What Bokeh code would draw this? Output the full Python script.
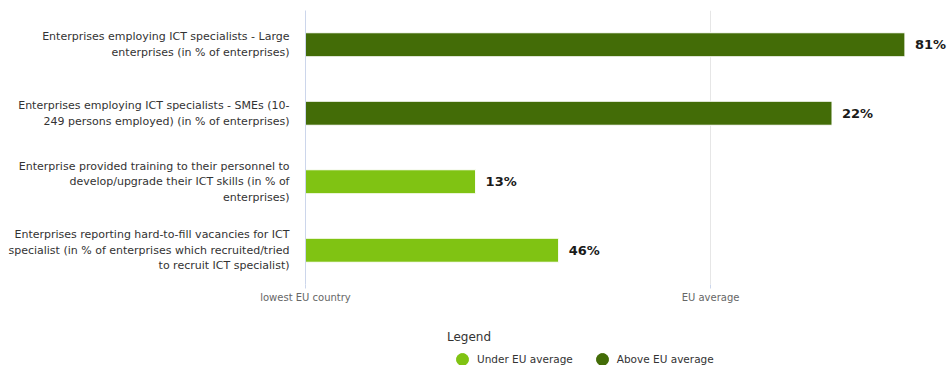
from bokeh.plotting import figure
from bokeh.layouts import column
from bokeh.models import FactorRange, Range1d, FixedTicker, Legend, LegendItem, ColumnDataSource
from bokeh.core.properties import value
from bokeh.embed import file_html
from bokeh.resources import INLINE

categories = [
    "Enterprises employing ICT specialists - Large\nenterprises (in % of enterprises)",
    "Enterprises employing ICT specialists - SMEs (10-\n249 persons employed) (in % of enterprises)",
    "Enterprise provided training to their personnel to\ndevelop/upgrade their ICT skills (in % of\nenterprises)",
    "Enterprises reporting hard-to-fill vacancies for ICT\nspecialist (in % of enterprises which recruited/tried\nto recruit ICT specialist)",
]
# position relative to scale: 0 = lowest EU country, 1 = EU average
positions = [1.48, 1.30, 0.42, 0.625]
value_labels = ["81%", "22%", "13%", "46%"]
status = ["Above EU average", "Above EU average", "Under EU average", "Under EU average"]
tick_values = [0, 1]
tick_labels = ["lowest EU country", "EU average"]
legend_labels = ["Under EU average", "Above EU average"]

colors = {"Under EU average": "#80c313", "Above EU average": "#436c07"}
FONT = "DejaVu Sans"

p = figure(
    width=952, height=312,
    y_range=FactorRange(*list(reversed(categories))),
    x_range=Range1d(0, 1.5975),
    output_backend="svg", toolbar_location=None,
    min_border_left=305, min_border_right=0, min_border_top=10, min_border_bottom=28,
)
p.outline_line_color = None
p.background_fill_color = "white"
p.border_fill_color = "white"

src = ColumnDataSource(dict(
    cat=categories, pos=positions, lab=value_labels,
    col=[colors[s] for s in status],
))
p.hbar(y="cat", left=0, right="pos", height=0.35, fill_color="col",
       line_color="white", line_width=1, source=src)
p.text(x="pos", y="cat", text="lab", x_offset=10, source=src,
       text_baseline="middle", text_align="left",
       text_font=value(FONT), text_font_size="13px", text_font_style="bold",
       text_color="#1a1a1a")

# y axis
p.yaxis.axis_line_color = "#ccd6eb"
p.yaxis.major_tick_line_color = None
p.yaxis.minor_tick_line_color = None
p.yaxis.major_label_standoff = 10
p.yaxis.major_label_text_font = FONT
p.yaxis.major_label_text_font_size = "11px"
p.yaxis.major_label_text_color = "#333333"
p.yaxis.major_label_text_line_height = 1.2
p.ygrid.grid_line_color = None

# x axis
p.xaxis.ticker = FixedTicker(ticks=tick_values)
p.xaxis.major_label_overrides = {t: l for t, l in zip(tick_values, tick_labels)}
p.xaxis.axis_line_color = None
p.xaxis.major_tick_line_color = "#ccd6eb"
p.xaxis.major_tick_out = 4
p.xaxis.major_tick_in = 0
p.xaxis.minor_tick_line_color = None
p.xaxis.major_label_standoff = 3
p.xaxis.major_label_text_font = FONT
p.xaxis.major_label_text_font_size = "10px"
p.xaxis.major_label_text_color = "#666666"
p.xgrid.ticker = FixedTicker(ticks=[1])
p.xgrid.grid_line_color = "#e6e6e6"

# legend figure (frame is aligned with the main plot's frame by the column layout)
q = figure(
    width=952, height=53, x_range=Range1d(0, 1), y_range=Range1d(0, 1),
    output_backend="svg", toolbar_location=None,
    min_border=0, min_border_left=305, min_border_right=0, min_border_top=0, min_border_bottom=0,
)
q.axis.visible = False
q.grid.grid_line_color = None
q.outline_line_color = None
q.background_fill_color = "white"
q.border_fill_color = "white"
items = []
for lab in legend_labels:
    r = q.scatter(x=[float("nan")], y=[float("nan")], marker="circle", size=12,
                  color=colors[lab])
    items.append(LegendItem(label=lab, renderers=[r]))
legend = Legend(
    items=items, orientation="horizontal", location=(142, -9), title="Legend",
    title_text_font=FONT, title_text_font_size="12px", title_text_font_style="normal",
    title_text_color="#333333", title_standoff=0,
    label_text_font=FONT, label_text_font_size="10.5px", label_text_color="#333333",
    glyph_width=30, glyph_height=30, label_standoff=-2, spacing=14,
    padding=0, margin=0, border_line_color=None, background_fill_alpha=0,
)
q.add_layout(legend)

open("out.html", "w").write(file_html(column(p, q, spacing=0), INLINE))
